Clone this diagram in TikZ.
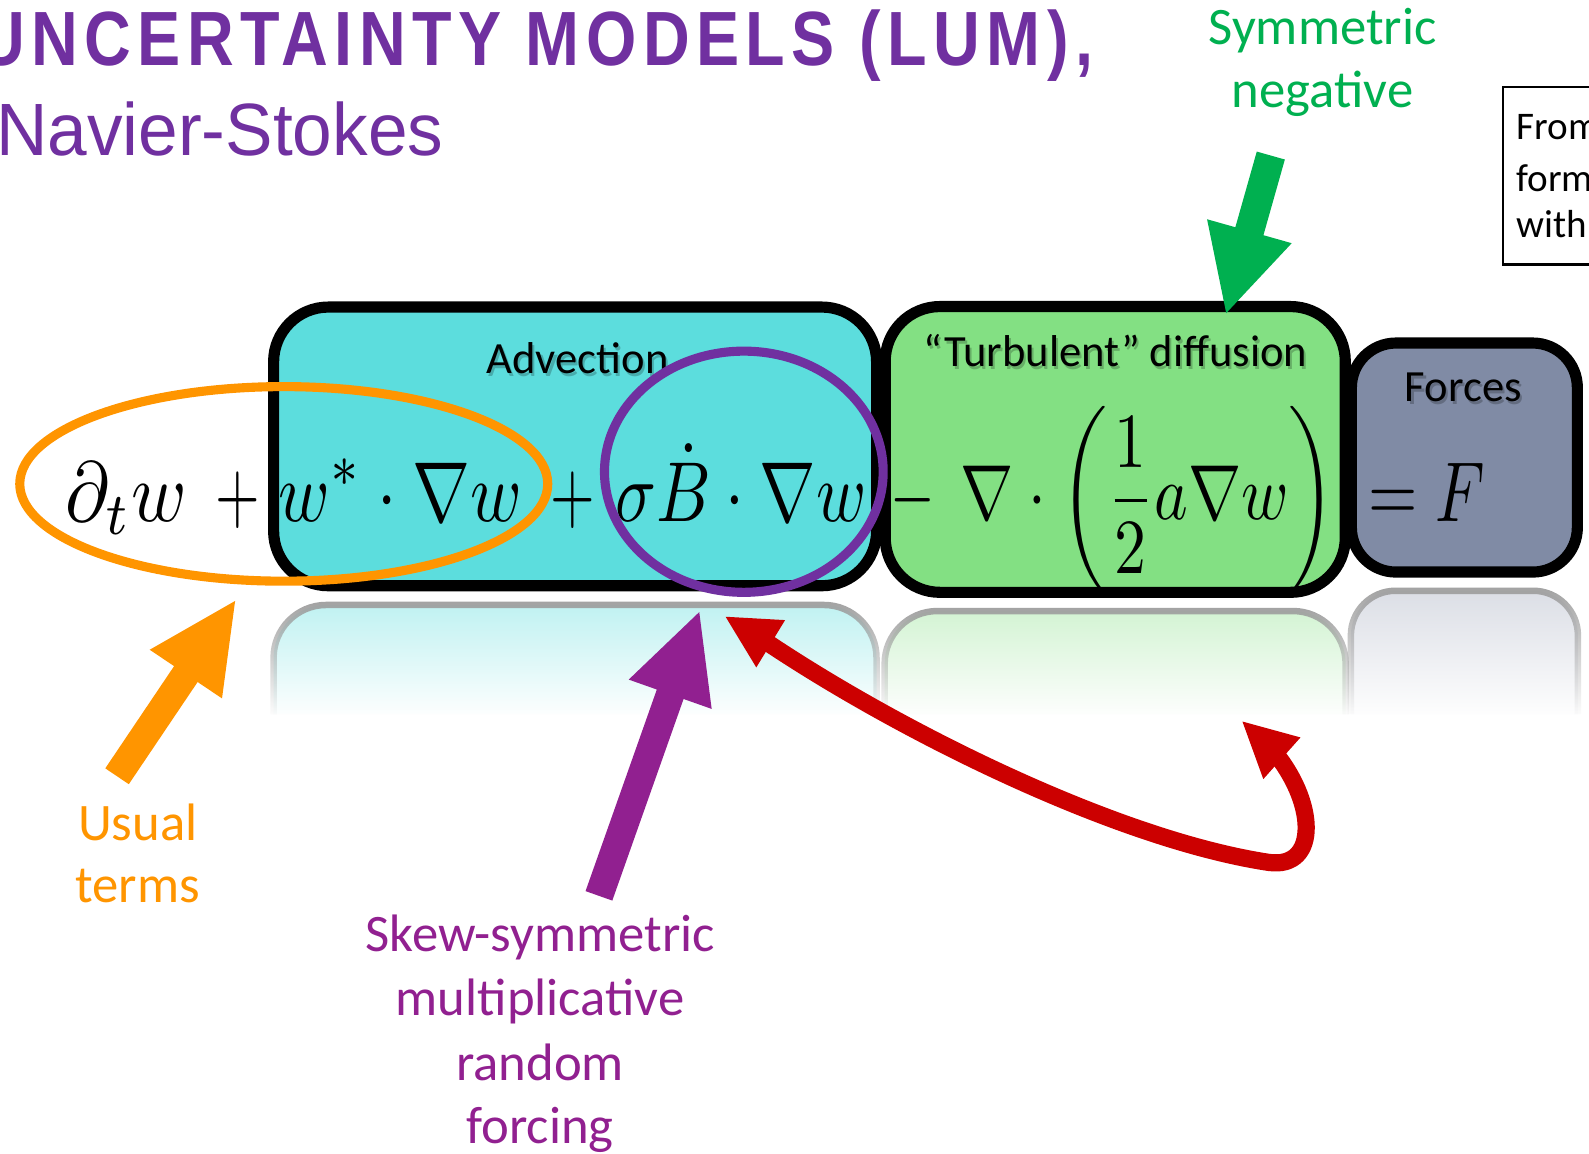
\documentclass[tikz,border=0pt]{standalone}
\usepackage{fontspec}
\usepackage{graphicx}
\setmainfont{Carlito}
\newfontfamily\titlefont[LetterSpace=10]{Liberation Sans}
\newfontfamily\subtitlefont{Liberation Sans}
\usetikzlibrary{calc,fadings,shapes.geometric}

\definecolor{titlepurple}{RGB}{112,48,160}
\definecolor{advcyan}{RGB}{92,221,221}
\definecolor{diffgreen}{RGB}{131,224,131}
\definecolor{forceslate}{RGB}{128,139,165}
\definecolor{arroworange}{RGB}{255,149,0}
\definecolor{skewpurple}{RGB}{145,32,144}
\definecolor{symgreen}{RGB}{0,176,80}
\definecolor{arrowred}{RGB}{204,0,0}

\tikzfading[name=reflfade, top color=transparent!5, bottom color=transparent!100]

\newsavebox\eqsavebox
\newcommand\eqchunk[3][4.2]{\sbox\eqsavebox{$\displaystyle #3$}%
  \edef\eqsx{\fpeval{#2/(\the\wd\eqsavebox)}}%
  \scalebox{\eqsx}[#1]{\usebox\eqsavebox}}

% #1 colour, #2 tail coordinate, #3 tip coordinate, #4 half shaft width, #5 half head width, #6 head length
\newcommand\blockarrow[6]{%
  \coordinate (#2-base) at ($(#3)!#6!(#2)$);
  \fill[#1] ($(#2)!#4!90:(#3)$) -- ($(#2-base)!#4!90:(#3)$) -- ($(#2-base)!#5!90:(#3)$)
     -- (#3) -- ($(#2-base)!#5!-90:(#3)$) -- ($(#2-base)!#4!-90:(#3)$) -- ($(#2)!#4!-90:(#3)$) -- cycle;}

\begin{document}
\begin{tikzpicture}[x=0.5pt,y=-0.5pt,
  eqbox/.style={draw=black, line width=5.5pt, inner sep=0pt},
  boxlabel/.style={font=\fontsize{22}{26}\selectfont, anchor=base, inner sep=0pt},
  boxshadow/.style={boxlabel, text=black, opacity=0.22},
  lbl/.style={font=\fontsize{26}{31}\selectfont, anchor=base, inner sep=0pt},
  eqpart/.style={anchor=base, inner sep=0pt},
  reflection/.style={draw=black!38, line width=3.2pt, rounded corners=26pt, path fading=reflfade},
  ring/.style={ellipse, line width=4.5pt, inner sep=0pt},
  fromline/.style={anchor=base west, inner sep=0pt, font=\fontsize{19.3}{23}\selectfont}
]
\useasboundingbox (0,0) rectangle (1568,1138);
\clip (0,0) rectangle (1568,1138);
\fill[white] (0,0) rectangle (1568,1138);

% titles
\node[anchor=base west, inner sep=0pt, text=titlepurple] (title) at (-22,65)
  {\resizebox{550pt}{27.5pt}{\titlefont\bfseries UNCERTAINTY MODELS (LUM),}};
\node[anchor=base west, inner sep=0pt, text=titlepurple] (subtitle) at (-4,153)
  {\resizebox{220.5pt}{26.5pt}{\subtitlefont Navier-Stokes}};

% reflections
\path[reflection, fill=advcyan!42!white] (270,705) -- (270,597) -- (865,597) -- (865,705);
\path[reflection, fill=diffgreen!38!white] (873,705) -- (873,603) -- (1328,603) -- (1328,705);
\path[reflection, fill=forceslate!30!white, rounded corners=22pt] (1333,705) -- (1333,583) -- (1557,583) -- (1557,705);

% boxes
\node[eqbox, fill=advcyan, rounded corners=27pt, minimum width=297.5pt, minimum height=137.5pt] (advbox) at (567.5,440.5) {};
\node[eqbox, fill=diffgreen, rounded corners=27pt, minimum width=227pt, minimum height=141pt] (diffbox) at (1100.5,443.5) {};
\node[eqbox, fill=forceslate, rounded corners=22pt, minimum width=111.5pt, minimum height=113pt] (forcebox) at (1445,451.5) {};

% box labels
\node[boxshadow] (advlabelsh) at (572,372) {Advection};
\node[boxlabel] (advlabel) at (570,369) {Advection};
\node[boxshadow] (difflabelsh) at (1103,365) {``Turbulent'' diffusion};
\node[boxlabel] (difflabel) at (1101,362) {``Turbulent'' diffusion};
\node[boxshadow] (forcelabelsh) at (1446,399) {Forces};
\node[boxlabel] (forcelabel) at (1444,396) {Forces};

% equation
\node[eqpart] (eq1) at (125,515) {\eqchunk{60}{\partial_t w}};
\node[eqpart] (eq2) at (235,515) {\eqchunk{22}{+}};
\node[eqpart] (eq3) at (395,515) {\eqchunk{120}{w^{*}\cdot\nabla w}};
\node[eqpart] (eq4) at (565,515) {\eqchunk{22}{+}};
\node[eqpart] (eq5) at (731,515) {\eqchunk{124}{\sigma\dot{B}\cdot\nabla w}};
\node[eqpart] (eq6) at (901,515) {\eqchunk{22}{-}};
\node[eqpart] (eq7) at (1133,513) {\eqchunk[3.85]{185}{\nabla\cdot\left(\frac{1}{2}a\nabla w\right)}};
\node[eqpart] (eq8) at (1407.5,515) {\eqchunk{57.5}{=F}};

% rings
\node[ring, draw=arroworange, minimum width=260.5pt, minimum height=96pt] (usualring) at (280,477.5) {};
\node[ring, draw=titlepurple, minimum width=137.5pt, minimum height=119pt] (skewring) at (734,465.5) {};

% block arrows
\coordinate (usualTail) at (115.5,766);
\coordinate (usualTip) at (232,593);
\blockarrow{arroworange}{usualTail}{usualTip}{7pt}{21.5pt}{43.5pt}
\coordinate (symTail) at (1254,153.5);
\coordinate (symTip) at (1210,309);
\blockarrow{symgreen}{symTail}{symTip}{7.2pt}{21.7pt}{42pt}
\coordinate (skewTail) at (591,884);
\coordinate (skewTip) at (690,604);
\blockarrow{skewpurple}{skewTail}{skewTip}{7pt}{21.7pt}{43pt}

% red curved double arrow
\coordinate (redL) at (716,608.6);
\coordinate (redR) at (1226,712);
\coordinate (redLb) at (760.5,635.3);
\coordinate (redRb) at (1265,748);
\draw[arrowred, line width=8.5pt] ($(redLb)!0.3!(redL)$) .. controls (880,718) and (1100,828) .. (1252,851)
   .. controls (1302,858) and (1300,790) .. ($(redRb)!0.3!(redR)$);
\fill[arrowred] (redL) -- (774.7,611.9) -- (746.3,658.6) -- cycle;
\fill[arrowred] (redR) -- (1283.3,727.7) -- (1246.6,768.8) -- cycle;

% labels
\node[lbl, text=symgreen] (sym1) at (1305,44) {Symmetric};
\node[lbl, text=symgreen] (sym2) at (1305,106) {negative};
\node[lbl, text=arroworange] (usual1) at (136,829) {Usual};
\node[lbl, text=arroworange] (usual2) at (136,891) {terms};
\node[lbl, text=skewpurple] (skew1) at (533,939) {Skew-symmetric};
\node[lbl, text=skewpurple] (skew2) at (533,1002) {multiplicative};
\node[lbl, text=skewpurple] (skew3) at (533,1066) {random};
\node[lbl, text=skewpurple] (skew4) at (533,1128) {forcing};

% partial box at right
\node[draw=black, line width=1pt, minimum width=80pt, minimum height=87.5pt, anchor=north west, inner sep=0pt] (frombox) at (1482,85) {};
\node[fromline] (from1) at (1496,138) {From};
\node[fromline] (from2) at (1496,189) {form};
\node[fromline] (from3) at (1496,234) {with};
\end{tikzpicture}
\end{document}
